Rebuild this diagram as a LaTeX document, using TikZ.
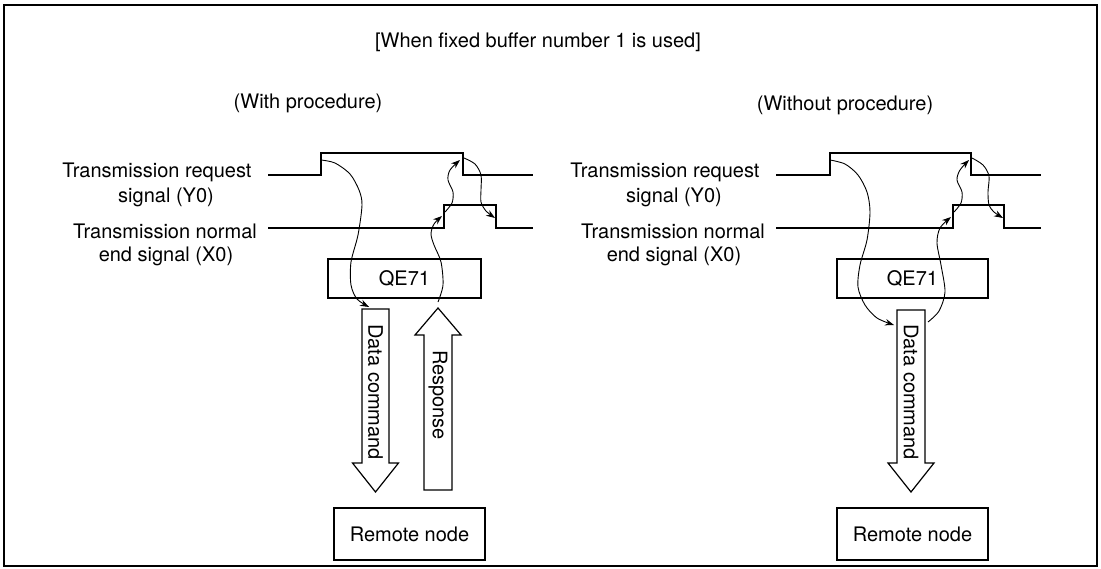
\documentclass[tikz,border=0pt]{standalone}
\usepackage{fontspec}
\setmainfont{TeX Gyre Heros}
\usetikzlibrary{arrows.meta}
\begin{document}
\begin{tikzpicture}[x=1pt,y=-1pt,
  lbl/.style={font=\fontsize{20}{24}\selectfont, inner sep=0pt},
  wave/.style={line width=1.4pt, line join=miter},
  box/.style={draw, line width=1.2pt, inner sep=0pt, font=\fontsize{20}{24}\selectfont},
  blk/.style={draw, line width=1.2pt, line join=miter},
  flow/.style={line width=0.9pt, -{Stealth[length=9pt,width=6.5pt]}},
]
\useasboundingbox (0,0) rectangle (1101,568);
\draw[line width=2pt] (4,5) rectangle (1097,566);

% titles
\node[lbl] (title) at (538,42) {[When fixed buffer number 1 is used]};
\node[lbl] (withp) at (308,103) {(With procedure)};
\node[lbl] (withoutp) at (845,105) {(Without procedure)};

% ---------- left panel ----------
\node[lbl] (reqL1) at (157,172) {Transmission request};
\node[lbl] (reqL2) at (166,197) {signal (Y0)};
\node[lbl] (endL1) at (165,231) {Transmission normal};
\node[lbl] (endL2) at (166,256) {end signal (X0)};

\draw[wave] (268,175) -- (321,175) -- (321,153) -- (463,153) -- (463,175) -- (533,175);
\draw[wave] (268,228) -- (444,228) -- (444,205) -- (496,205) -- (496,228) -- (533,228);

\node[box, minimum width=153pt, minimum height=39pt] (qeL) at (404.5,278.5) {QE71};
\node[box, minimum width=151pt, minimum height=52pt] (rnL) at (409.5,534) {Remote node};

\draw[blk] (362,309) -- (389,309) -- (389,463) -- (398.5,463) -- (375.5,492) -- (352.5,463) -- (362,463) -- cycle;
\node[lbl, rotate=-90] (dcL) at (375.5,392) {Data command};
\draw[blk] (424,490) -- (452,490) -- (452,335) -- (461,335) -- (438,308) -- (415,335) -- (424,335) -- cycle;
\node[lbl, rotate=-90] (rsL) at (438,395) {Response};

\coordinate (c1aL) at (321,160);
\coordinate (c1bL) at (369,307);
\coordinate (c2aL) at (438,302);
\coordinate (c2bL) at (442,216);
\coordinate (c3aL) at (445,212);
\coordinate (c3bL) at (460,160);
\coordinate (c4aL) at (464,158);
\coordinate (c4bL) at (495,218);
\draw[flow] plot[smooth] coordinates {(c1aL) (335,163) (350,174) (359,190) (362,205) (358,235) (351,262) (351,285) (357,299) (c1bL)};
\draw[flow] plot[smooth] coordinates {(c2aL) (443,285) (441,262) (434,245) (431,234) (434,224) (c2bL)};
\draw[flow] plot[smooth] coordinates {(c3aL) (452,203) (453,192) (448,180) (450,170) (c3bL)};
\draw[flow] plot[smooth] coordinates {(c4aL) (475,164) (481,175) (481,190) (481,202) (486,211) (c4bL)};

% ---------- right panel ----------
\node[lbl] (reqR1) at (665,172) {Transmission request};
\node[lbl] (reqR2) at (674,197) {signal (Y0)};
\node[lbl] (endR1) at (673,231) {Transmission normal};
\node[lbl] (endR2) at (674,256) {end signal (X0)};

\draw[wave] (776,175) -- (830,175) -- (830,153) -- (971,153) -- (971,175) -- (1041,175);
\draw[wave] (776,228) -- (953,228) -- (953,205) -- (1004,205) -- (1004,228) -- (1041,228);

\node[box, minimum width=151pt, minimum height=39pt] (qeR) at (912.5,278.5) {QE71};
\node[box, minimum width=151pt, minimum height=52pt] (rnR) at (912.5,534) {Remote node};

\draw[blk] (897,310) -- (925,310) -- (925,463) -- (934,463) -- (911,492) -- (888,463) -- (897,463) -- cycle;
\node[lbl, rotate=-90] (dcR) at (911,392) {Data command};

\coordinate (c1aR) at (830,160);
\coordinate (c1bR) at (894,325);
\coordinate (c2aR) at (928,322);
\coordinate (c2bR) at (951,217);
\coordinate (c3aR) at (954,212);
\coordinate (c3bR) at (969,160);
\coordinate (c4aR) at (972,158);
\coordinate (c4bR) at (1003,218);
\draw[flow] plot[smooth] coordinates {(c1aR) (845,164) (858,175) (867,192) (870,212) (867,240) (860,265) (858,287) (865,305) (877,318) (c1bR)};
\draw[flow] plot[smooth] coordinates {(c2aR) (939,311) (945,292) (941,265) (937,243) (940,228) (c2bR)};
\draw[flow] plot[smooth] coordinates {(c3aR) (961,203) (962,192) (957,180) (960,170) (c3bR)};
\draw[flow] plot[smooth] coordinates {(c4aR) (983,165) (989,176) (988,192) (989,205) (994,212) (c4bR)};
\end{tikzpicture}
\end{document}
